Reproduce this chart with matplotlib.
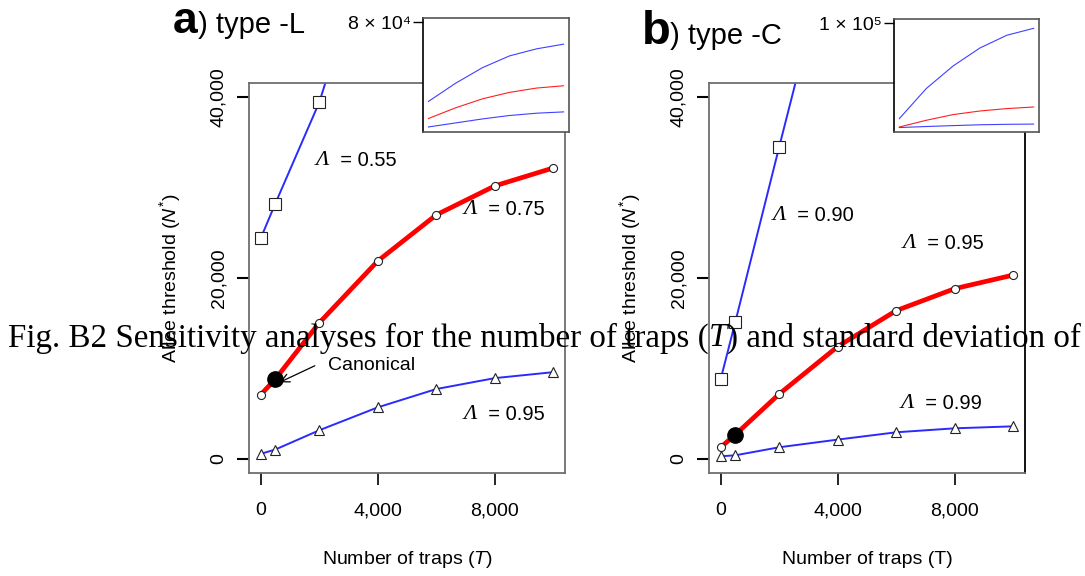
import matplotlib
matplotlib.use("Agg")
import matplotlib.pyplot as plt
from matplotlib.offsetbox import TextArea, HPacker, AnchoredOffsetbox

plt.rcParams['font.family'] = ['Liberation Sans', 'DejaVu Sans']
plt.rcParams['mathtext.fontset'] = 'custom'
plt.rcParams['mathtext.rm'] = 'Liberation Sans'
plt.rcParams['mathtext.it'] = 'Liberation Sans:italic'
plt.rcParams['mathtext.bf'] = 'Liberation Sans:bold'

# number of traps
traps = [0, 500, 2000, 4000, 6000, 8000, 10000]
traps_inset = [0, 2000, 4000, 6000, 8000, 10000]

# type -L
L_low = [24400, 28250, 39450, 60000]          # lambda 0.55 (leaves the plot)
L_mid = [7070, 8800, 15030, 21880, 26990, 30200, 32190]   # lambda 0.75
L_high = [520, 1000, 3130, 5670, 7700, 8910, 9570]        # lambda 0.95
L_inset_top = [19960, 33680, 45570, 54480, 59820, 63380]
L_inset_mid = [7010, 15090, 21950, 26820, 30100, 31850]
L_inset_bot = [610, 3660, 6710, 9300, 11050, 12040]

# type -C
C_low = [8800, 15140, 34540, 60000]           # lambda 0.90
C_mid = [1250, 2650, 7150, 12410, 16390, 18820, 20330]    # lambda 0.95
C_high = [250, 360, 1250, 2100, 2910, 3350, 3570]         # lambda 0.99
C_inset_top = [8810, 37490, 59100, 76300, 88450, 95100]
C_inset_mid = [780, 7190, 12630, 16080, 18370, 19900]
C_inset_bot = [250, 1250, 2100, 2910, 3350, 3570]

canonical_T = 500
L_canon = 8800
C_canon = 2650

L_labels = [("0.55", 2330, 33040), ("0.75", 7400, 27625), ("0.95", 7400, 4860)]
C_labels = [("0.90", 2227, 26960), ("0.95", 6680, 23870), ("0.99", 6612, 6080)]

BLUE = '#2a2aff'
RED = '#ff0000'
W, H = 1085, 576

fig = plt.figure(figsize=(W / 100, H / 100), dpi=100)


def add_px_axes(l, t, r, b):
    return fig.add_axes([l / W, 1 - b / H, (r - l) / W, (b - t) / H])


def lam_label(ax, x, y, val):
    ax.text(x, y, "Λ", family='Liberation Serif', style='italic', fontsize=16,
            ha='right', va='center')
    ax.text(x, y, "  = " + val, fontsize=14.5, ha='left', va='center')


def main_panel(box, low, mid, high, canon, labels, xlab):
    ax = add_px_axes(*box)
    mk = dict(markerfacecolor='white', markeredgecolor='#222222', markeredgewidth=0.8)
    ax.plot(traps[:len(low)], low, color=BLUE, lw=1.4, marker='s', ms=8, **mk)
    ax.plot(traps, mid, color=RED, lw=3.4, marker='o', ms=5.8, **mk)
    ax.plot(traps, high, color=BLUE, lw=1.4, marker='^', ms=7.5, **mk)
    ax.plot([canonical_T], [canon], 'o', color='black', ms=11, zorder=5)
    ax.set_xlim(-400, 10400)
    ax.set_ylim(-1600, 41600)
    ax.set_xticks([0, 4000, 8000])
    ax.set_xticklabels(["0", "4,000", "8,000"])
    ax.set_yticks([0, 20000, 40000])
    ax.set_yticklabels(["0", "20,000", "40,000"], rotation=90, va='center')
    ax.tick_params(axis='x', length=8.6, width=1.2, pad=12.5, labelsize=14)
    ax.tick_params(axis='y', length=8.6, width=1.5, pad=7, labelsize=14)
    for s in ax.spines.values():
        s.set_color('#6e6e6e')
        s.set_linewidth(1.3)
    for val, x, y in labels:
        lam_label(ax, x, y, val)
    ax.text(-0.25, 0.5, r"Allee threshold ($\mathit{N}^{*}$)", transform=ax.transAxes,
            rotation=90, ha='center', va='center', fontsize=14)
    ax.text(0.5, -0.223, xlab, transform=ax.transAxes, ha='center', va='center',
            fontsize=14)
    return ax


def inset(box, top, mid, bot, ymax, ylab):
    ax = add_px_axes(*box)
    ax.set_zorder(3)
    ax.set_facecolor('white')
    ax.plot(traps_inset, top, color='#4040ff', lw=0.8)
    ax.plot(traps_inset, mid, color='#ff2020', lw=0.8)
    ax.plot(traps_inset, bot, color='#4040ff', lw=0.8)
    ax.set_xlim(-400, 10400)
    ax.set_ylim(-0.04 * ymax, 1.04 * ymax)
    ax.set_xticks([])
    ax.set_yticks([ymax])
    ax.set_yticklabels([ylab])
    ax.tick_params(axis='y', length=7, width=1.0, pad=1.5, labelsize=14)
    for s in ax.spines.values():
        s.set_color('#555555')
        s.set_linewidth(1.2)
    ax.spines['left'].set_color('black')
    return ax


axa = main_panel((249, 83, 565, 473), L_low, L_mid, L_high, L_canon, L_labels,
                 r"Number of traps ($\mathit{T}$)")
axb = main_panel((709, 83, 1025, 473), C_low, C_mid, C_high, C_canon, C_labels,
                 "Number of traps (T)")
axb.spines['right'].set_color('black')

axa.text(2295, 10280, "Canonical", fontsize=14, ha='left', va='center')
axa.annotate('', xy=(650, 8450), xytext=(1850, 10280),
             arrowprops=dict(arrowstyle='->', color='black', lw=0.9,
                             shrinkA=0, shrinkB=0, mutation_scale=15))

inset((423, 18, 569, 132), L_inset_top, L_inset_mid, L_inset_bot, 8e4, "8 × 10⁴")
inset((894, 19, 1039, 132), C_inset_top, C_inset_mid, C_inset_bot, 1e5, "1 × 10⁵")

# panel headings
fig.text(197 / W, 1 - 33 / H, "a", fontsize=32, fontweight='bold', ha='right',
         va='baseline')
fig.text(198 / W, 1 - 33 / H, ") type -L", fontsize=21, ha='left', va='baseline')
fig.text(671 / W, 1 - 44 / H, "b", fontsize=34, fontweight='bold', ha='right',
         va='baseline')
fig.text(670 / W, 1 - 44 / H, ") type -C", fontsize=21, ha='left', va='baseline')

# caption line running across the figure
serif = dict(family='Liberation Serif', size=23.8, color='black')
parts = [TextArea("Fig. B2 Sensitivity analyses for the number of traps (", textprops=serif),
         TextArea("T", textprops=dict(serif, style='italic')),
         TextArea(") and standard deviation of", textprops=serif)]
cap = AnchoredOffsetbox(loc='center left', child=HPacker(children=parts, sep=0, pad=0,
                                                          align='baseline'),
                        pad=0, borderpad=0, frameon=False,
                        bbox_to_anchor=(8 / W, 1 - 338 / H),
                        bbox_transform=fig.transFigure)
cap.set_zorder(10)
fig.add_artist(cap)

fig.savefig("out.png", dpi=100)
